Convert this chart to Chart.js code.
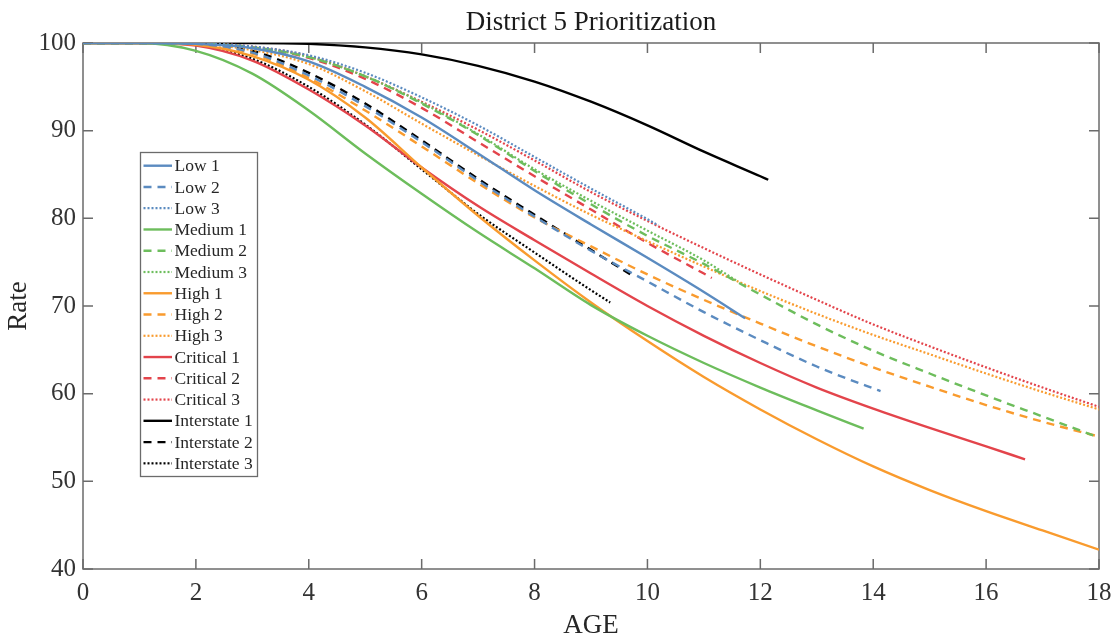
<!DOCTYPE html>
<html>
<head>
<meta charset="utf-8">
<script src="https://cdn.jsdelivr.net/npm/chart.js@4.4.1/dist/chart.umd.min.js"></script>
<style>
  html, body { margin: 0; padding: 0; background: #fff; }
  canvas { display: block; }
</style>
</head>
<body>
<canvas id="rateChart" width="1117" height="639"></canvas>
<script>
// ages 0..18, each series below gives the rate at age 0,1,2,... and its last value sits at its end age
const ages = [0, 1, 2, 3, 4, 5, 6, 7, 8, 9, 10, 11, 12, 13, 14, 15, 16, 17, 18];
const xTicks = [0, 2, 4, 6, 8, 10, 12, 14, 16, 18];
const yTicks = [40, 50, 60, 70, 80, 90, 100];

const low1 = [100, 100, 99.9, 99.4, 97.9, 95.0, 91.5, 87.4, 83.2, 79.3, 75.5, 71.6, 68.6];
const low2 = [100, 100, 99.9, 98.9, 96.3, 92.8, 88.7, 84.3, 80.2, 76.3, 72.8, 69.3, 66.1, 63.1, 60.6, 60.3];
const low3 = [100, 100, 99.95, 99.6, 98.6, 96.6, 93.8, 90.6, 87.0, 83.4, 79.9, 79.2];
const medium1 = [100, 100, 99.1, 96.5, 92.3, 87.4, 82.8, 78.4, 74.3, 70.1, 66.6, 63.5, 60.7, 58.1, 56.0];
const medium2 = [100, 100, 99.95, 99.5, 98.4, 96.2, 93.1, 89.5, 85.4, 81.6, 78.0, 74.8, 71.3, 67.9, 64.9, 62.3, 59.8, 57.4, 55.0];
const medium3 = [100, 100, 99.95, 99.5, 98.4, 96.2, 93.2, 89.6, 85.6, 82.0, 78.6, 75.2, 72.8];
const high1 = [100, 100, 99.8, 98.5, 95.8, 91.5, 85.8, 80.3, 75.2, 70.4, 66.0, 61.9, 58.2, 54.8, 51.7, 49.0, 46.6, 44.4, 42.2];
const high2 = [100, 100, 99.9, 98.8, 96.0, 92.3, 88.2, 84.0, 80.1, 76.8, 73.6, 70.7, 68.0, 65.4, 63.0, 60.8, 58.7, 56.8, 55.1];
const high3 = [100, 100, 99.9, 99.2, 97.6, 94.5, 90.8, 87.2, 83.7, 80.4, 77.4, 74.5, 71.7, 69.1, 66.7, 64.5, 62.3, 60.2, 58.2];
const critical1 = [100, 100, 99.7, 98.0, 94.7, 90.6, 85.8, 81.4, 77.5, 73.7, 70.0, 66.6, 63.5, 60.7, 58.3, 56.1, 54.0, 52.5];
const critical2 = [100, 100, 99.95, 99.5, 98.3, 95.9, 92.6, 88.7, 84.8, 81.0, 77.2, 73.7, 73.2];
const critical3 = [100, 100, 99.95, 99.6, 98.5, 96.2, 93.3, 90.1, 86.6, 83.0, 79.7, 76.6, 73.6, 70.7, 67.9, 65.4, 63.0, 60.7, 58.5];
const interstate1 = [100, 100, 100, 100, 99.9, 99.5, 98.7, 97.4, 95.6, 93.3, 90.6, 87.6, 84.8, 84.4];
const interstate2 = [100, 100, 99.9, 99.1, 96.6, 93.1, 88.9, 84.5, 80.4, 76.4, 73.6];
const interstate3 = [100, 100, 99.8, 98.2, 95.0, 90.7, 85.6, 80.5, 76.1, 71.8, 70.4];

const seriesNames = ["Low 1", "Low 2", "Low 3", "Medium 1", "Medium 2", "Medium 3", "High 1", "High 2", "High 3",
  "Critical 1", "Critical 2", "Critical 3", "Interstate 1", "Interstate 2", "Interstate 3"];
const seriesValues = [low1, low2, low3, medium1, medium2, medium3, high1, high2, high3,
  critical1, critical2, critical3, interstate1, interstate2, interstate3];
// age where each series stops
const endAges = [11.73, 14.13, 10.19, 13.83, 18, 11.6, 18, 18, 18, 16.69, 11.14, 18, 12.14, 9.7, 9.34];

const colors = { Low: "#5b8bc0", Medium: "#6dbd5c", High: "#f99b2e", Critical: "#e3444b", Interstate: "#000000" };
const dashes = { "1": [], "2": [8, 6], "3": [2, 2] };
const SERIF = "'Liberation Serif', 'Times New Roman', serif";

function toPoints(values, endAge) {
  return values.map((v, i) => ({ x: i === values.length - 1 ? endAge : ages[i], y: v }));
}

const datasets = seriesNames.map((name, i) => {
  const [group, num] = name.split(" ");
  return {
    label: name,
    data: toPoints(seriesValues[i], endAges[i]),
    borderColor: colors[group],
    backgroundColor: colors[group],
    borderWidth: num === "3" ? 2.2 : 2.4,
    borderDash: dashes[num],
    pointRadius: 0,
    fill: false,
    cubicInterpolationMode: "monotone"
  };
});

// box round the plot with inward ticks (MATLAB style)
const boxPlugin = {
  id: "boxAndTicks",
  beforeDatasetsDraw(chart) {
    const { ctx, chartArea: a, scales: { x, y } } = chart;
    ctx.save();
    ctx.strokeStyle = "#6b6b6b";
    ctx.lineWidth = 1.5;
    ctx.strokeRect(a.left, a.top, a.right - a.left, a.bottom - a.top);
    ctx.beginPath();
    xTicks.forEach(t => {
      const px = x.getPixelForValue(t);
      ctx.moveTo(px, a.bottom); ctx.lineTo(px, a.bottom - 10);
      ctx.moveTo(px, a.top); ctx.lineTo(px, a.top + 10);
    });
    yTicks.forEach(t => {
      const py = y.getPixelForValue(t);
      ctx.moveTo(a.left, py); ctx.lineTo(a.left + 10, py);
      ctx.moveTo(a.right, py); ctx.lineTo(a.right - 10, py);
    });
    ctx.stroke();
    ctx.restore();
  }
};

// title centred over the plot area, legend box inside the plot
const overlayPlugin = {
  id: "overlay",
  afterDraw(chart) {
    const { ctx, chartArea: a } = chart;
    ctx.save();
    ctx.fillStyle = "#1a1a1a";
    ctx.font = "27px " + SERIF;
    ctx.textAlign = "center";
    ctx.textBaseline = "middle";
    ctx.fillText("District 5 Prioritization", (a.left + a.right) / 2, 23);

    const box = { left: 140.5, top: 152.5, width: 117, height: 324 };
    ctx.fillStyle = "#fff";
    ctx.fillRect(box.left, box.top, box.width, box.height);
    ctx.strokeStyle = "#6b6b6b";
    ctx.lineWidth = 1.3;
    ctx.strokeRect(box.left, box.top, box.width, box.height);
    ctx.textAlign = "left";
    ctx.font = "17.5px " + SERIF;
    chart.data.datasets.forEach((ds, i) => {
      const yy = 165.7 + i * 21.26;
      ctx.strokeStyle = ds.borderColor;
      ctx.lineWidth = ds.borderWidth;
      ctx.setLineDash(ds.borderDash);
      ctx.beginPath();
      ctx.moveTo(143.5, yy);
      ctx.lineTo(172, yy);
      ctx.stroke();
      ctx.setLineDash([]);
      ctx.fillStyle = "#262626";
      ctx.fillText(ds.label, 174.5, yy + 1);
    });
    ctx.restore();
  }
};

const ctx = document.getElementById("rateChart").getContext("2d");
new Chart(ctx, {
  type: "line",
  data: { datasets },
  options: {
    responsive: false,
    animation: false,
    devicePixelRatio: 1,
    layout: { padding: { left: 0, right: 18, top: 43, bottom: 0 } },
    plugins: {
      legend: { display: false },
      tooltip: { enabled: false },
      title: { display: false }
    },
    scales: {
      x: {
        type: "linear",
        min: 0,
        max: 18,
        afterFit: s => { s.height = 70; s.paddingLeft = 0; s.paddingRight = 0; },
        afterBuildTicks: s => { s.ticks = xTicks.map(v => ({ value: v })); },
        grid: { display: false, drawTicks: false },
        border: { display: false },
        ticks: { color: "#333", padding: 9, maxRotation: 0, font: { family: SERIF, size: 25 } },
        title: { display: true, text: "AGE", color: "#262626", padding: { top: 0, bottom: -3 }, font: { family: SERIF, size: 27 } }
      },
      y: {
        min: 40,
        max: 100,
        afterFit: s => { s.width = 83; s.paddingTop = 0; s.paddingBottom = 0; },
        afterBuildTicks: s => { s.ticks = yTicks.map(v => ({ value: v })); },
        grid: { display: false, drawTicks: false },
        border: { display: false },
        ticks: { color: "#333", padding: 7, font: { family: SERIF, size: 25 } },
        title: { display: true, text: "Rate", color: "#262626", padding: { top: 3, bottom: 0 }, font: { family: SERIF, size: 27 } }
      }
    }
  },
  plugins: [boxPlugin, overlayPlugin]
});
</script>
</body>
</html>
